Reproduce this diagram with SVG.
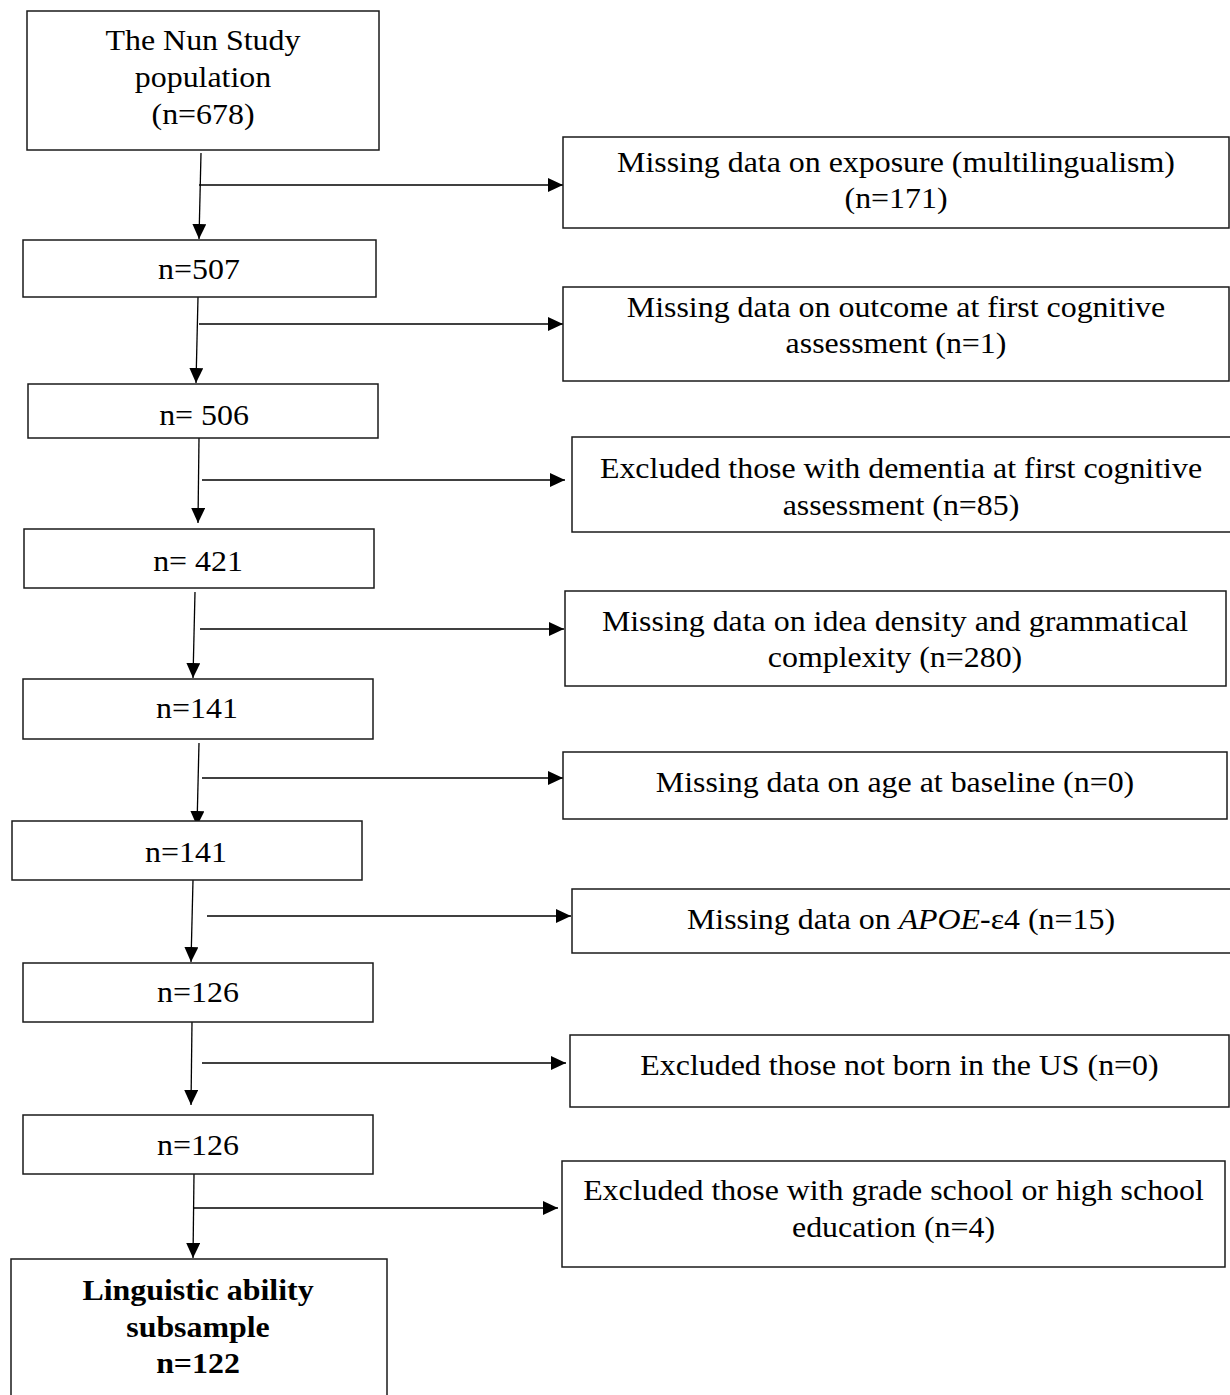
<svg xmlns="http://www.w3.org/2000/svg" width="1230" height="1395" viewBox="0 0 1230 1395">
<style>
.box{fill:#fff;stroke:#1a1a1a;stroke-width:1.5}
.t{font-family:"Liberation Serif","Times New Roman",serif;font-size:29px;fill:#000;text-anchor:middle}
.b{font-weight:bold}
.ln{stroke:#000;stroke-width:1.3;fill:none;marker-end:url(#ah)}
</style>
<defs>
<marker id="ah" markerUnits="userSpaceOnUse" markerWidth="15" markerHeight="14" viewBox="0 0 15 14" refX="15" refY="7" orient="auto">
<path d="M0,0 L15,7 L0,14 z" fill="#000"/>
</marker>
</defs>
<rect width="1230" height="1395" fill="#fff"/>
<g id="connectors">
<line class="ln" x1="201" y1="153" x2="199" y2="239"/>
<line class="ln" x1="199" y1="185" x2="563" y2="185"/>
<line class="ln" x1="198" y1="297" x2="196" y2="383"/>
<line class="ln" x1="199" y1="324" x2="563" y2="324"/>
<line class="ln" x1="199" y1="438" x2="198" y2="523"/>
<line class="ln" x1="202" y1="480" x2="565" y2="480"/>
<line class="ln" x1="195" y1="592" x2="193" y2="678"/>
<line class="ln" x1="200" y1="629" x2="564" y2="629"/>
<line class="ln" x1="199" y1="743" x2="197" y2="826"/>
<line class="ln" x1="202" y1="778" x2="563" y2="778"/>
<line class="ln" x1="193" y1="880" x2="191" y2="962"/>
<line class="ln" x1="207" y1="916" x2="571" y2="916"/>
<line class="ln" x1="192" y1="1022" x2="191" y2="1105"/>
<line class="ln" x1="202" y1="1063" x2="566" y2="1063"/>
<line class="ln" x1="194" y1="1174" x2="193" y2="1258"/>
<line class="ln" x1="193" y1="1208" x2="558" y2="1208"/>
</g>
<g id="n678"><rect class="box" x="27" y="11" width="352" height="139"/>
<text class="t" transform="translate(203,0) scale(1.1,1)"><tspan x="0" y="50">The Nun Study</tspan><tspan x="0" y="87">population</tspan><tspan x="0" y="124">(n=678)</tspan></text></g>
<g id="n507"><rect class="box" x="23" y="240" width="353" height="57"/>
<text class="t" transform="translate(199,0) scale(1.1,1)"><tspan x="0" y="279">n=507</tspan></text></g>
<g id="n506"><rect class="box" x="28" y="384" width="350" height="54"/>
<text class="t" transform="translate(204,0) scale(1.1,1)"><tspan x="0" y="425">n= 506</tspan></text></g>
<g id="n421"><rect class="box" x="24" y="529" width="350" height="59"/>
<text class="t" transform="translate(198,0) scale(1.1,1)"><tspan x="0" y="571">n= 421</tspan></text></g>
<g id="n141a"><rect class="box" x="23" y="679" width="350" height="60"/>
<text class="t" transform="translate(197,0) scale(1.1,1)"><tspan x="0" y="718">n=141</tspan></text></g>
<g id="n141b"><rect class="box" x="12" y="821" width="350" height="59"/>
<text class="t" transform="translate(186,0) scale(1.1,1)"><tspan x="0" y="862">n=141</tspan></text></g>
<g id="n126a"><rect class="box" x="23" y="963" width="350" height="59"/>
<text class="t" transform="translate(198,0) scale(1.1,1)"><tspan x="0" y="1002">n=126</tspan></text></g>
<g id="n126b"><rect class="box" x="23" y="1115" width="350" height="59"/>
<text class="t" transform="translate(198,0) scale(1.1,1)"><tspan x="0" y="1155">n=126</tspan></text></g>
<g id="n122"><rect class="box" x="11" y="1259" width="376" height="140"/>
<text class="t b" transform="translate(198,0) scale(1.1,1)"><tspan x="0" y="1300">Linguistic ability</tspan><tspan x="0" y="1337">subsample</tspan><tspan x="0" y="1373">n=122</tspan></text></g>
<g id="ex1"><rect class="box" x="563" y="137" width="666" height="91"/>
<text class="t" transform="translate(896,0) scale(1.1,1)"><tspan x="0" y="172">Missing data on exposure (multilingualism)</tspan><tspan x="0" y="208">(n=171)</tspan></text></g>
<g id="ex2"><rect class="box" x="563" y="287" width="666" height="94"/>
<text class="t" transform="translate(896,0) scale(1.1,1)"><tspan x="0" y="317">Missing data on outcome at first cognitive</tspan><tspan x="0" y="353">assessment (n=1)</tspan></text></g>
<g id="ex3"><rect class="box" x="572" y="437" width="662" height="95"/>
<text class="t" transform="translate(901,0) scale(1.1,1)"><tspan x="0" y="478">Excluded those with dementia at first cognitive</tspan><tspan x="0" y="515">assessment (n=85)</tspan></text></g>
<g id="ex4"><rect class="box" x="565" y="591" width="661" height="95"/>
<text class="t" transform="translate(895,0) scale(1.1,1)"><tspan x="0" y="631">Missing data on idea density and grammatical</tspan><tspan x="0" y="667">complexity (n=280)</tspan></text></g>
<g id="ex5"><rect class="box" x="563" y="752" width="664" height="67"/>
<text class="t" transform="translate(895,0) scale(1.1,1)"><tspan x="0" y="792">Missing data on age at baseline (n=0)</tspan></text></g>
<g id="ex6"><rect class="box" x="572" y="889" width="662" height="64"/>
<text class="t" transform="translate(901,0) scale(1.1,1)"><tspan x="0" y="929">Missing data on <tspan font-style="italic">APOE</tspan>-ε4 (n=15)</tspan></text></g>
<g id="ex7"><rect class="box" x="570" y="1035" width="659" height="72"/>
<text class="t" transform="translate(899.5,0) scale(1.1,1)"><tspan x="0" y="1075">Excluded those not born in the US (n=0)</tspan></text></g>
<g id="ex8"><rect class="box" x="562" y="1161" width="663" height="106"/>
<text class="t" transform="translate(893.5,0) scale(1.1,1)"><tspan x="0" y="1200">Excluded those with grade school or high school</tspan><tspan x="0" y="1237">education (n=4)</tspan></text></g>
</svg>
